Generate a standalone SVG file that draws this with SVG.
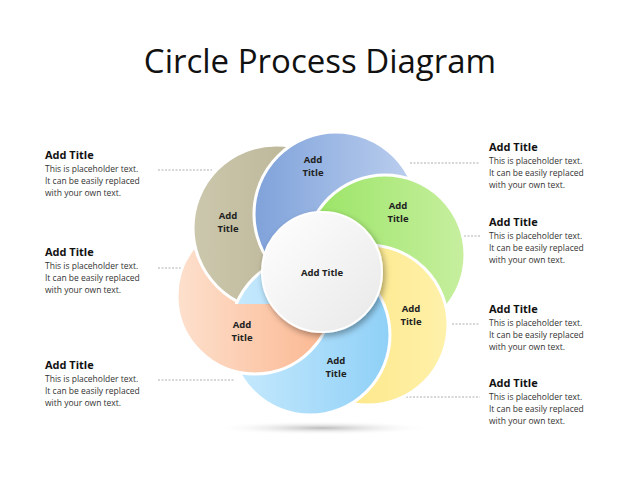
<svg xmlns="http://www.w3.org/2000/svg" width="640" height="480" viewBox="0 0 640 480">
<defs>
<style>
.pt{stroke:#fff;stroke-width:3}
.lb{font-family:"Open Sans","DejaVu Sans",sans-serif;font-size:9.5px;font-weight:bold;fill:#222;text-anchor:middle}
.st{font-family:"Open Sans","DejaVu Sans",sans-serif;font-size:11px;font-weight:bold;fill:#111}
.bd{font-family:"Open Sans","DejaVu Sans",sans-serif;font-size:8.5px;fill:#333}
.dl{stroke:#999;stroke-width:0.8;stroke-dasharray:2 1.5;fill:none}
</style>
<linearGradient id="gB"><stop offset="0" stop-color="#7fa2da"/><stop offset="1" stop-color="#bdd0ef"/></linearGradient>
<linearGradient id="gG"><stop offset="0" stop-color="#98e463"/><stop offset="1" stop-color="#c7ef9f"/></linearGradient>
<linearGradient id="gY"><stop offset="0" stop-color="#fde277"/><stop offset="1" stop-color="#fef1aa"/></linearGradient>
<linearGradient id="gC"><stop offset="0" stop-color="#c8eafd"/><stop offset="1" stop-color="#8fd0f7"/></linearGradient>
<linearGradient id="gP"><stop offset="0" stop-color="#fde0cd"/><stop offset="1" stop-color="#fbb68f"/></linearGradient>
<linearGradient id="gK"><stop offset="0" stop-color="#ccc8ad"/><stop offset="1" stop-color="#b3ac8c"/></linearGradient>
<linearGradient id="gW" x1="0" y1="0" x2="1" y2="1"><stop offset="0" stop-color="#ffffff"/><stop offset="1" stop-color="#e8e8e8"/></linearGradient>
<radialGradient id="gS"><stop offset="0" stop-color="#bbb"/><stop offset="1" stop-color="#fff" stop-opacity="0"/></radialGradient>
<filter id="sh" x="-30%" y="-30%" width="160%" height="160%"><feDropShadow dx="2" dy="3" stdDeviation="3" flood-color="#000" flood-opacity="0.35"/></filter>
<clipPath id="cp"><polygon points="0,304 330,304 330,480 0,480"/></clipPath>
</defs>
<rect width="640" height="480" fill="#fff"/>
<text x="320" y="73" font-family="'Open Sans','DejaVu Sans',sans-serif" font-size="33" text-anchor="middle" fill="#111">Circle Process Diagram</text>
<ellipse cx="322" cy="428" rx="110" ry="7" fill="url(#gS)"/>
<g id="connectors">
<line class="dl" x1="158" y1="170" x2="212" y2="170"/>
<line class="dl" x1="158" y1="268" x2="186" y2="268"/>
<line class="dl" x1="158" y1="380" x2="234" y2="380"/>
<line class="dl" x1="410" y1="163" x2="480" y2="163"/>
<line class="dl" x1="464" y1="236" x2="480" y2="236"/>
<line class="dl" x1="452" y1="324" x2="480" y2="324"/>
<line class="dl" x1="350" y1="397" x2="480" y2="397"/>
</g>
<g id="petal-peach"><circle class="pt" cx="255" cy="296" r="78" fill="url(#gP)"/></g>
<g id="petal-khaki"><circle class="pt" cx="276" cy="228" r="83" fill="url(#gK)"/></g>
<g id="petal-blue"><circle class="pt" cx="336" cy="214" r="82" fill="url(#gB)"/></g>
<g id="petal-green"><circle class="pt" cx="385" cy="255" r="80" fill="url(#gG)"/></g>
<g id="petal-yellow"><circle class="pt" cx="368" cy="325" r="80" fill="url(#gY)"/></g>
<g id="petal-cyan"><circle class="pt" cx="310" cy="335" r="80" fill="url(#gC)"/></g>
<g clip-path="url(#cp)"><circle class="pt" cx="255" cy="296" r="78" fill="url(#gP)"/></g>
<g id="center"><circle cx="322" cy="272" r="60" fill="url(#gW)" stroke="#fff" stroke-width="2" filter="url(#sh)"/>
<text class="lb" x="322" y="276" font-size="11">Add Title</text></g>
<g class="lb">
<text x="313" y="163">Add</text><text x="313" y="176">Title</text>
<text x="398" y="209">Add</text><text x="398" y="222">Title</text>
<text x="411" y="312">Add</text><text x="411" y="325">Title</text>
<text x="336" y="364">Add</text><text x="336" y="377">Title</text>
<text x="242" y="328">Add</text><text x="242" y="341">Title</text>
<text x="228" y="219">Add</text><text x="228" y="232">Title</text>
</g>
<g id="left-texts">
<text class="st" x="45" y="159">Add Title</text>
<text class="bd" x="45" y="172">This is placeholder  text.</text><text class="bd" x="45" y="184">It can be easily replaced</text><text class="bd" x="45" y="196">with your own text.</text>
<text class="st" x="45" y="256">Add Title</text>
<text class="bd" x="45" y="269">This is placeholder  text.</text><text class="bd" x="45" y="281">It can be easily replaced</text><text class="bd" x="45" y="293">with your own text.</text>
<text class="st" x="45" y="369">Add Title</text>
<text class="bd" x="45" y="382">This is placeholder  text.</text><text class="bd" x="45" y="394">It can be easily replaced</text><text class="bd" x="45" y="406">with your own text.</text>
</g>
<g id="right-texts">
<text class="st" x="489" y="151">Add Title</text>
<text class="bd" x="489" y="164">This is placeholder  text.</text><text class="bd" x="489" y="176">It can be easily replaced</text><text class="bd" x="489" y="188">with your own text.</text>
<text class="st" x="489" y="226">Add Title</text>
<text class="bd" x="489" y="239">This is placeholder  text.</text><text class="bd" x="489" y="251">It can be easily replaced</text><text class="bd" x="489" y="263">with your own text.</text>
<text class="st" x="489" y="313">Add Title</text>
<text class="bd" x="489" y="326">This is placeholder  text.</text><text class="bd" x="489" y="338">It can be easily replaced</text><text class="bd" x="489" y="350">with your own text.</text>
<text class="st" x="489" y="387">Add Title</text>
<text class="bd" x="489" y="400">This is placeholder  text.</text><text class="bd" x="489" y="412">It can be easily replaced</text><text class="bd" x="489" y="424">with your own text.</text>
</g>
</svg>
